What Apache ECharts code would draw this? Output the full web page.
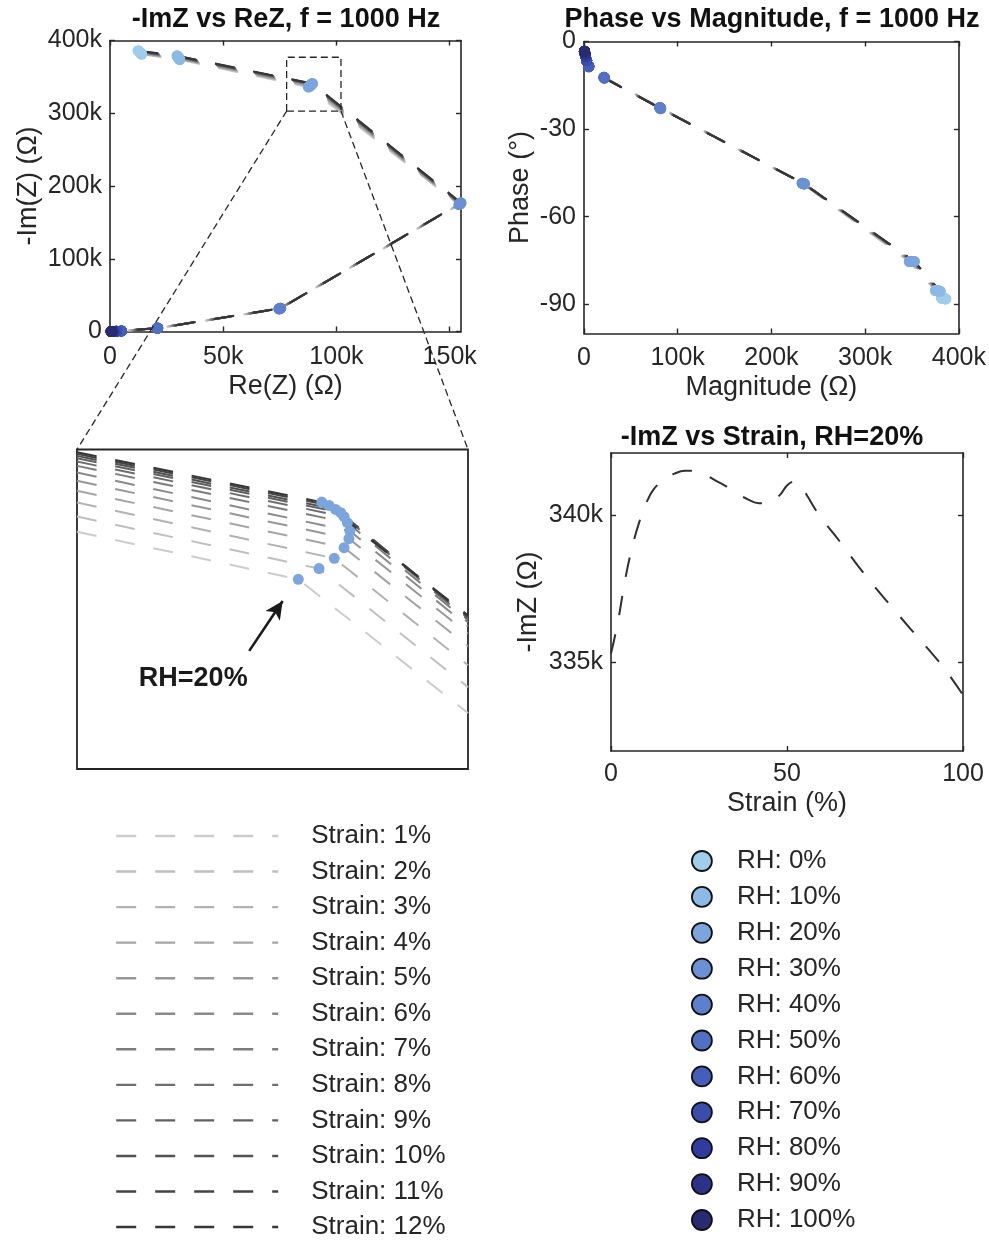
<!DOCTYPE html>
<html>
<head>
<meta charset="utf-8">
<script src="https://cdn.jsdelivr.net/npm/echarts@6/dist/echarts.min.js"></script>
<style>
  html, body { margin: 0; padding: 0; background: #ffffff; }
  #chart { width: 989px; height: 1243px; }
</style>
</head>
<body>
<div id="chart"></div>
<script>
// ---------------------------------------------------------------------------
// Impedance of the sensor at f = 1000 Hz
// ---------------------------------------------------------------------------
const rhLevels = [0, 10, 20, 30, 40, 50, 60, 70, 80, 90, 100];      // RH (%)
const strainLevels = [1, 2, 3, 4, 5, 6, 7, 8, 9, 10, 11, 12];        // strain (%)

// Re(Z) in kOhm: one row per RH level, one column per strain level
const reZ_kOhm = [
  [14.0, 13.9, 13.7, 13.6, 13.4, 13.3, 13.1, 13.0, 12.8, 12.7, 12.5, 12.4],
  [30.8, 30.7, 30.6, 30.5, 30.4, 30.3, 30.2, 30.1, 30.0, 29.8, 29.7, 29.6],
  [87.6, 87.9, 88.2, 88.4, 88.6, 88.8, 88.9, 89.0, 89.1, 89.2, 89.3, 89.4],
  [154.1, 154.2, 154.3, 154.4, 154.5, 154.5, 154.6, 154.7, 154.8, 154.9, 154.9, 155.0],
  [74.6, 74.7, 74.7, 74.8, 74.9, 75.0, 75.0, 75.1, 75.2, 75.2, 75.3, 75.4],
  [20.8, 20.8, 20.9, 20.9, 20.9, 21.0, 21.0, 21.0, 21.0, 21.1, 21.1, 21.1],
  [5.00, 5.01, 5.02, 5.03, 5.04, 5.05, 5.06, 5.07, 5.08, 5.09, 5.10, 5.10],
  [2.8, 2.8, 2.8, 2.8, 2.8, 2.8, 2.8, 2.8, 2.8, 2.8, 2.8, 2.8],
  [1.6, 1.6, 1.6, 1.6, 1.6, 1.6, 1.6, 1.6, 1.6, 1.6, 1.6, 1.6],
  [0.9, 0.9, 0.9, 0.9, 0.9, 0.9, 0.9, 0.9, 0.9, 0.9, 0.9, 0.9],
  [0.5, 0.5, 0.5, 0.5, 0.5, 0.5, 0.5, 0.5, 0.5, 0.5, 0.5, 0.5]
];

// -Im(Z) in kOhm: one row per RH level, one column per strain level
const negImZ_kOhm = [
  [381.0, 381.5, 382.1, 382.6, 383.0, 383.5, 384.0, 384.4, 384.9, 385.3, 385.6, 386.0],
  [373.6, 374.2, 374.7, 375.2, 375.8, 376.3, 376.7, 377.3, 377.7, 378.2, 378.6, 379.0],
  [335.8, 336.6, 337.3, 337.9, 338.5, 339.0, 339.5, 339.9, 340.2, 340.5, 340.7, 340.9],
  [174.3, 174.6, 174.9, 175.1, 175.4, 175.6, 175.9, 176.1, 176.3, 176.5, 176.7, 176.9],
  [31.0, 31.1, 31.2, 31.3, 31.4, 31.5, 31.6, 31.7, 31.7, 31.8, 31.9, 32.0],
  [4.50, 4.52, 4.54, 4.56, 4.58, 4.60, 4.61, 4.63, 4.65, 4.66, 4.68, 4.70],
  [0.74, 0.74, 0.75, 0.75, 0.75, 0.76, 0.76, 0.76, 0.77, 0.77, 0.77, 0.78],
  [0.32, 0.32, 0.32, 0.32, 0.32, 0.32, 0.32, 0.32, 0.32, 0.32, 0.32, 0.32],
  [0.14, 0.14, 0.14, 0.14, 0.14, 0.14, 0.14, 0.14, 0.14, 0.14, 0.14, 0.14],
  [0.063, 0.063, 0.063, 0.063, 0.063, 0.063, 0.063, 0.063, 0.063, 0.063, 0.063, 0.063],
  [0.029, 0.029, 0.029, 0.029, 0.029, 0.029, 0.029, 0.029, 0.029, 0.029, 0.029, 0.029]
];

// Zoom window around the RH = 20% knee (Ohm)
const zoomWindowRe = [78000, 102000];
const zoomWindowImZ = [303000, 377000];

// Magnified knee: range of the magnified panel (Ohm)
const insetReRange = [80000, 100000];
const insetImZRange = [320000, 352000];
// Per strain: -ImZ where the RH 10%->20% branch enters the panel (at Re = 80 kOhm)
const insetEntryImZ = [343760, 345290, 346690, 347860, 348860, 349690, 350360, 350790, 351120, 351360, 351560, 351720];
// Per strain: the RH = 20% knee
const insetKneeRe   = [91320, 92380, 93160, 93660, 93910, 93960, 93830, 93660, 93490, 93230, 92890, 92520];
const insetKneeImZ  = [339000, 340070, 341100, 342170, 343070, 343830, 344670, 345270, 345670, 346000, 346400, 346730];
// Per strain: -ImZ where the RH 20%->30% branch leaves the panel (at Re = 100 kOhm)
const insetExitImZ  = [325600, 328200, 330400, 332300, 333550, 334300, 334700, 334950, 335100, 335200, 335300, 335400];
// Arrow pointing at the RH = 20% knees (start, tip)
const arrowFrom = [88810, 331830];
const arrowTo   = [90520, 336830];

// -ImZ versus strain at RH = 20%
const strainPct = [0, 2, 4, 6, 8, 10, 12, 15, 18, 21, 24, 27, 30, 33, 36, 39, 42, 45, 48, 50, 52, 54, 56, 58, 60, 65, 70, 75, 80, 85, 90, 95, 100];
const negImZ_RH20_kOhm = [335.3, 336.4, 337.8, 338.9, 339.75, 340.4, 340.85, 341.2, 341.4, 341.5, 341.5, 341.35, 341.15, 340.95, 340.72, 340.52, 340.4, 340.42, 340.68, 341.0, 341.13, 340.95, 340.6, 340.2, 339.85, 339.1, 338.3, 337.55, 336.85, 336.15, 335.47, 334.75, 333.9];

// Tick values
const reTicks = [0, 50000, 100000, 150000];
const imTicks = [0, 100000, 200000, 300000, 400000];
const magTicks = [0, 100000, 200000, 300000, 400000];
const phaseTicks = [-90, -60, -30, 0];
const strainTicks = [0, 50, 100];
const imStrainTicks = [335000, 340000];

// ---------------------------------------------------------------------------
// Styles
// ---------------------------------------------------------------------------
const strainGray = ['#cccccc', '#bfbfbf', '#b2b2b2', '#a5a5a5', '#979797', '#8a8a8a',
                    '#7c7c7c', '#6e6e6e', '#606060', '#525252', '#444444', '#363636'];
const rhColors = ['#a0cdec', '#8dbae4', '#7ba5dc', '#6b91d3', '#5e7fcc', '#526fc3',
                  '#465eb7', '#3a4dab', '#2f3c9e', '#2b3288', '#282b70'];
const INK = '#262626';
const FONT = '"Liberation Sans", Arial, Helvetica, sans-serif';
const DASH = [20, 19];
const TICK_FS = 25;
const NAME_FS = 27;

const kFmt = v => (v === 0 ? '0' : (v / 1000) + 'k');
const strainName = s => 'Strain: ' + s + '%';
const rhName = r => 'RH: ' + r + '%';

function axis(o) {
  const a = {
    type: 'value',
    gridIndex: o.grid,
    min: o.min,
    max: o.max,
    position: o.position,
    axisLine: { show: true, onZero: false, lineStyle: { color: INK, width: 1.6 } },
    axisTick: o.ticks
      ? { show: true, inside: true, length: 5, lineStyle: { color: INK, width: 1.4 }, customValues: o.ticks }
      : { show: false },
    axisLabel: o.labels
      ? { show: true, customValues: o.ticks, formatter: o.fmt, fontSize: TICK_FS, color: INK,
          fontFamily: FONT, margin: o.margin }
      : { show: false },
    splitLine: { show: false }
  };
  if (o.name) {
    a.name = o.name;
    a.nameLocation = 'middle';
    a.nameGap = o.nameGap;
    a.nameTextStyle = { fontSize: NAME_FS, color: INK, fontFamily: FONT };
  }
  return a;
}

// ---------------------------------------------------------------------------
// Axes: 0 = Nyquist, 1 = phase/magnitude, 2 = magnified knee, 3 = strain sweep
// ---------------------------------------------------------------------------
const xAxes = [
  axis({ grid: 0, min: 0, max: 155000, position: 'bottom', ticks: reTicks, labels: true, fmt: kFmt, margin: 13,
         name: 'Re(Z) (Ω)', nameGap: 42 }),
  axis({ grid: 0, min: 0, max: 155000, position: 'top', ticks: reTicks }),
  axis({ grid: 1, min: 0, max: 400000, position: 'bottom', ticks: magTicks, labels: true, fmt: kFmt, margin: 12,
         name: 'Magnitude (Ω)', nameGap: 41 }),
  axis({ grid: 1, min: 0, max: 400000, position: 'top', ticks: magTicks }),
  { type: 'value', gridIndex: 2, min: insetReRange[0], max: insetReRange[1], show: false },
  axis({ grid: 3, min: 0, max: 100, position: 'bottom', ticks: strainTicks, labels: true, fmt: v => String(v), margin: 11,
         name: 'Strain (%)', nameGap: 39 }),
  axis({ grid: 3, min: 0, max: 100, position: 'top', ticks: strainTicks })
];
const yAxes = [
  axis({ grid: 0, min: 0, max: 400000, position: 'left', ticks: imTicks, labels: true, fmt: kFmt, margin: 8,
         name: '-Im(Z) (Ω)', nameGap: 68 }),
  axis({ grid: 0, min: 0, max: 400000, position: 'right', ticks: imTicks }),
  axis({ grid: 1, min: -100, max: 0, position: 'left', ticks: phaseTicks, labels: true, fmt: v => String(v), margin: 8,
         name: 'Phase (°)', nameGap: 50 }),
  axis({ grid: 1, min: -100, max: 0, position: 'right', ticks: phaseTicks }),
  { type: 'value', gridIndex: 2, min: insetImZRange[0], max: insetImZRange[1], show: false },
  axis({ grid: 3, min: 332000, max: 342100, position: 'left', ticks: imStrainTicks, labels: true, fmt: kFmt, margin: 8,
         name: '-ImZ (Ω)', nameGap: 69 }),
  axis({ grid: 3, min: 332000, max: 342100, position: 'right', ticks: imStrainTicks })
];

// ---------------------------------------------------------------------------
// Series
// ---------------------------------------------------------------------------
const series = [];
const lineBase = (name, xi, yi, data, color) => ({
  type: 'line', name, xAxisIndex: xi, yAxisIndex: yi, data,
  symbol: 'none', showSymbol: false, clip: true, silent: true,
  itemStyle: { color },
  lineStyle: { color, width: 2, type: DASH }, z: 2
});
const toPolar = (re, im) => [Math.hypot(re, im), -Math.atan2(im, re) * 180 / Math.PI];

// Strain curves through the RH levels
strainLevels.forEach((s, j) => {
  const nyq = rhLevels.map((_, i) => [reZ_kOhm[i][j] * 1000, negImZ_kOhm[i][j] * 1000]);
  series.push(lineBase(strainName(s), 0, 0, nyq, strainGray[j]));
});
strainLevels.forEach((s, j) => {
  const pm = rhLevels.map((_, i) => toPolar(reZ_kOhm[i][j] * 1000, negImZ_kOhm[i][j] * 1000));
  series.push(lineBase(strainName(s), 2, 2, pm, strainGray[j]));
});
strainLevels.forEach((s, j) => {
  const knee = [
    [insetReRange[0], insetEntryImZ[j]],
    [insetKneeRe[j], insetKneeImZ[j]],
    [insetReRange[1], insetExitImZ[j]]
  ];
  series.push(lineBase(strainName(s), 4, 4, knee, strainGray[j]));
});

// Zoom window outline
series.push({
  type: 'line', xAxisIndex: 0, yAxisIndex: 0, silent: true, symbol: 'none', z: 3,
  data: [[zoomWindowRe[0], zoomWindowImZ[0]], [zoomWindowRe[0], zoomWindowImZ[1]],
         [zoomWindowRe[1], zoomWindowImZ[1]], [zoomWindowRe[1], zoomWindowImZ[0]],
         [zoomWindowRe[0], zoomWindowImZ[0]]],
  lineStyle: { color: INK, width: 1.3, type: [7, 4] }
});

// RH markers
rhLevels.forEach((r, i) => {
  series.push({
    type: 'scatter', name: rhName(r), xAxisIndex: 0, yAxisIndex: 0, silent: true, z: 4,
    symbol: 'circle', symbolSize: 11, itemStyle: { color: rhColors[i], opacity: 1 },
    data: strainLevels.map((_, j) => [reZ_kOhm[i][j] * 1000, negImZ_kOhm[i][j] * 1000])
  });
});
rhLevels.forEach((r, i) => {
  series.push({
    type: 'scatter', name: rhName(r), xAxisIndex: 2, yAxisIndex: 2, silent: true, z: 4,
    symbol: 'circle', symbolSize: 11, itemStyle: { color: rhColors[i], opacity: 1 },
    data: strainLevels.map((_, j) => toPolar(reZ_kOhm[i][j] * 1000, negImZ_kOhm[i][j] * 1000))
  });
});
const insetMarkerIndex = series.length;
series.push({
  type: 'scatter', name: rhName(20), xAxisIndex: 4, yAxisIndex: 4, silent: true, z: 4,
  symbol: 'circle', symbolSize: 11, itemStyle: { color: rhColors[2], opacity: 1 },
  data: strainLevels.map((_, j) => [insetKneeRe[j], insetKneeImZ[j]]),
  markLine: {
    silent: true, animation: false,
    symbol: ['none', 'arrow'], symbolSize: [13, 18],
    label: { show: false },
    lineStyle: { color: '#1a1a1a', width: 2.6, type: 'solid', opacity: 1 },
    data: [[{ coord: arrowFrom }, { coord: arrowTo }]]
  }
});

// Strain sweep at RH = 20%
series.push({
  type: 'line', xAxisIndex: 5, yAxisIndex: 5, silent: true, symbol: 'none', smooth: 0.4,
  data: strainPct.map((s, k) => [s, negImZ_RH20_kOhm[k] * 1000]),
  lineStyle: { color: '#303030', width: 2, type: DASH }
});

// ---------------------------------------------------------------------------
// Titles and legends
// ---------------------------------------------------------------------------
const titleStyle = { fontSize: 27, fontWeight: 'bold', color: '#111111', fontFamily: FONT };
const titles = [
  { text: '-ImZ vs ReZ, f = 1000 Hz', left: 286, top: 6 },
  { text: 'Phase vs Magnitude, f = 1000 Hz', left: 772, top: 6 },
  { text: '-ImZ vs Strain, RH=20%', left: 772, top: 424 }
].map(t => Object.assign(t, { textAlign: 'center', padding: 0, textStyle: titleStyle }));

const legendText = { fontSize: 26, color: INK, fontFamily: FONT, lineHeight: 26 };
const legends = [
  {
    orient: 'vertical', left: 115, top: 823, itemWidth: 162, itemHeight: 26, itemGap: 9.55,
    selectedMode: false, padding: 0,
    itemStyle: { opacity: 0 },
    lineStyle: { width: 2.4 },
    data: strainLevels.map(strainName),
    textStyle: Object.assign({ padding: [0, 0, 0, 28] }, legendText)
  },
  {
    orient: 'vertical', left: 691, top: 848, itemWidth: 60, itemHeight: 20, itemGap: 9.9,
    selectedMode: false, padding: 0, icon: 'circle',
    itemStyle: { borderColor: '#111111', borderWidth: 1.8, opacity: 1 },
    data: rhLevels.map(rhName),
    textStyle: legendText
  }
];

const option = {
  animation: false,
  backgroundColor: '#ffffff',
  textStyle: { fontFamily: FONT },
  title: titles,
  legend: legends,
  grid: [
    { left: 110, top: 40.5, width: 351, height: 291 },
    { left: 584, top: 41.5, width: 375, height: 292 },
    { left: 77, top: 449.5, width: 391, height: 319.5, show: true, borderColor: INK, borderWidth: 1.8,
      backgroundColor: 'transparent' },
    { left: 611, top: 453, width: 352, height: 298 }
  ],
  xAxis: xAxes,
  yAxis: yAxes,
  series
};

const chart = echarts.init(document.getElementById('chart'), null, { renderer: 'canvas' });
chart.setOption(option);

// Connectors from the zoom window to the magnified panel, plus the annotation
const cornerL = chart.convertToPixel({ seriesIndex: 0 }, [zoomWindowRe[0], zoomWindowImZ[0]]);
const cornerR = chart.convertToPixel({ seriesIndex: 0 }, [zoomWindowRe[1], zoomWindowImZ[0]]);
const insetL = chart.convertToPixel({ seriesIndex: insetMarkerIndex }, [insetReRange[0], insetImZRange[1]]);
const insetR = chart.convertToPixel({ seriesIndex: insetMarkerIndex }, [insetReRange[1], insetImZRange[1]]);
const arrowStart = chart.convertToPixel({ seriesIndex: insetMarkerIndex }, arrowFrom);
const connectorStyle = { stroke: INK, lineWidth: 1.3, lineDash: [7, 4] };

chart.setOption({
  graphic: [
    { type: 'line', silent: true, z: 10,
      shape: { x1: cornerL[0], y1: cornerL[1], x2: insetL[0], y2: insetL[1] }, style: connectorStyle },
    { type: 'line', silent: true, z: 10,
      shape: { x1: cornerR[0], y1: cornerR[1], x2: insetR[0], y2: insetR[1] }, style: connectorStyle },
    { type: 'text', silent: true, z: 10,
      x: arrowStart[0] - 56, y: arrowStart[1] + 28,
      style: { text: 'RH=20%', fontSize: 27, fontWeight: 'bold', fontFamily: FONT, fill: '#1a1a1a',
               align: 'center', verticalAlign: 'middle' } }
  ]
});
</script>
</body>
</html>
